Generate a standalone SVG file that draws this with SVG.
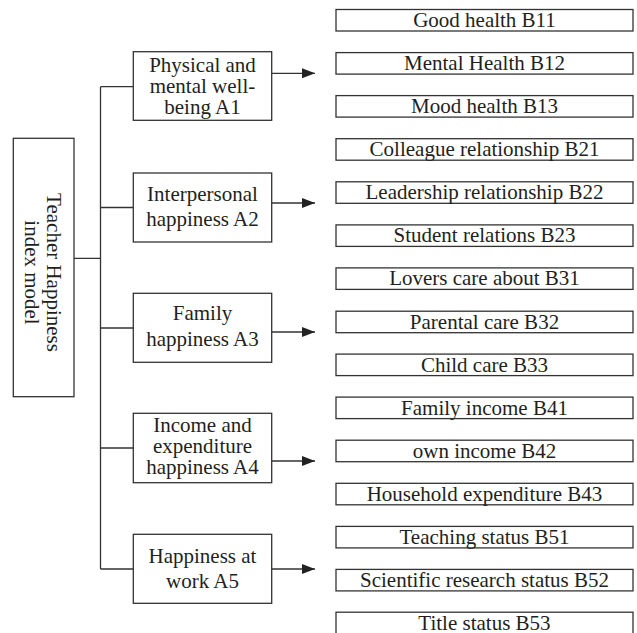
<svg xmlns="http://www.w3.org/2000/svg" width="637" height="633" viewBox="0 0 637 633">
<defs>
<style>
.box{fill:#fff;stroke:#333;stroke-width:1.3}
.ln{fill:none;stroke:#333;stroke-width:1.3}
text{font-family:"Liberation Serif","Times New Roman",serif;font-size:21px;fill:#231f20;text-anchor:middle}
</style>
<marker id="arr" markerUnits="userSpaceOnUse" markerWidth="14" markerHeight="12" refX="13" refY="5" orient="auto">
<path d="M0,0 L13,5 L0,10 Z" fill="#222"/>
</marker>
</defs>
<rect width="637" height="633" fill="#fff"/>
<g id="connectors">
<path class="ln" d="M74,258.3 H100.5 M100.5,86.7 V569 M100.5,86.7 H133.3 M100.5,207.5 H133.3 M100.5,328 H133.3 M100.5,448 H133.3 M100.5,569 H133.3"/>
<path class="ln" d="M271.7,73.3 H315" marker-end="url(#arr)"/>
<path class="ln" d="M271.7,203 H315" marker-end="url(#arr)"/>
<path class="ln" d="M271.7,332 H315" marker-end="url(#arr)"/>
<path class="ln" d="M271.7,461 H315" marker-end="url(#arr)"/>
<path class="ln" d="M271.7,569 H315" marker-end="url(#arr)"/>
</g>
<g id="root">
<rect class="box" x="13.3" y="138.3" width="60.7" height="258.4"/>
<text transform="translate(46.7,272.5) rotate(90)">Teacher Happiness<tspan x="0" dy="21.7">index model</tspan></text>
</g>
<g id="A1">
<rect class="box" x="133.3" y="51.7" width="138.4" height="68.6"/>
<text x="202.5" y="71.7">Physical and</text>
<text x="202.5" y="92.7">mental well-</text>
<text x="202.5" y="113.5">being A1</text>
</g>
<g id="A2">
<rect class="box" x="133.3" y="173" width="138.4" height="69"/>
<text x="202.5" y="200.5">Interpersonal</text>
<text x="202.5" y="225.7">happiness A2</text>
</g>
<g id="A3">
<rect class="box" x="133.3" y="293.3" width="138.4" height="69"/>
<text x="202.5" y="320">Family</text>
<text x="202.5" y="346">happiness A3</text>
</g>
<g id="A4">
<rect class="box" x="133.3" y="413.3" width="138.4" height="69.4"/>
<text x="202.5" y="431.7">Income and</text>
<text x="202.5" y="452.7">expenditure</text>
<text x="202.5" y="474">happiness A4</text>
</g>
<g id="A5">
<rect class="box" x="133.3" y="534.3" width="138.4" height="69"/>
<text x="202.5" y="563.3">Happiness at</text>
<text x="202.5" y="588.3">work A5</text>
</g>
<g id="B11"><rect class="box" x="336" y="9.5" width="297" height="21.5"/><text x="484.5" y="27">Good health B11</text></g>
<g id="B12"><rect class="box" x="336" y="52.6" width="297" height="21.5"/><text x="484.5" y="70.1">Mental Health B12</text></g>
<g id="B13"><rect class="box" x="336" y="95.6" width="297" height="21.5"/><text x="484.5" y="113.1">Mood health B13</text></g>
<g id="B21"><rect class="box" x="336" y="138.7" width="297" height="21.5"/><text x="484.5" y="156.2">Colleague relationship B21</text></g>
<g id="B22"><rect class="box" x="336" y="181.8" width="297" height="21.5"/><text x="484.5" y="199.3">Leadership relationship B22</text></g>
<g id="B23"><rect class="box" x="336" y="224.9" width="297" height="21.5"/><text x="484.5" y="242.4">Student relations B23</text></g>
<g id="B31"><rect class="box" x="336" y="267.9" width="297" height="21.5"/><text x="484.5" y="285.4">Lovers care about B31</text></g>
<g id="B32"><rect class="box" x="336" y="311.2" width="297" height="21.5"/><text x="484.5" y="328.7">Parental care B32</text></g>
<g id="B33"><rect class="box" x="336" y="354.1" width="297" height="21.5"/><text x="484.5" y="371.6">Child care B33</text></g>
<g id="B41"><rect class="box" x="336" y="397.1" width="297" height="21.5"/><text x="484.5" y="414.6">Family income B41</text></g>
<g id="B42"><rect class="box" x="336" y="440.2" width="297" height="21.5"/><text x="484.5" y="457.7">own income B42</text></g>
<g id="B43"><rect class="box" x="336" y="483.3" width="297" height="21.5"/><text x="484.5" y="500.8">Household expenditure B43</text></g>
<g id="B51"><rect class="box" x="336" y="526.4" width="297" height="21.5"/><text x="484.5" y="543.9">Teaching status B51</text></g>
<g id="B52"><rect class="box" x="336" y="569.4" width="297" height="21.5"/><text x="484.5" y="586.9">Scientific research status B52</text></g>
<g id="B53"><rect class="box" x="336" y="612.2" width="297" height="21.5"/><text x="484.5" y="629.7">Title status B53</text></g>
</svg>
